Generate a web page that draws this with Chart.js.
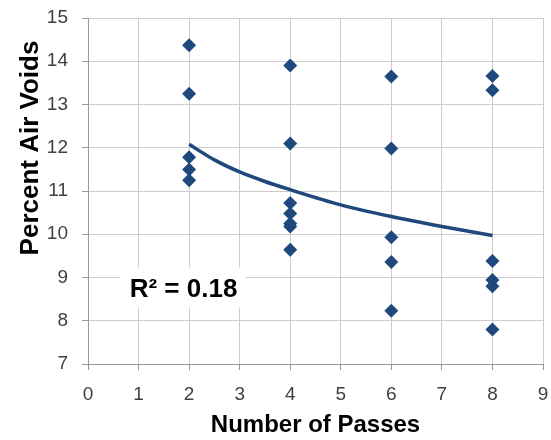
<!DOCTYPE html>
<html>
<head>
<meta charset="utf-8">
<script src="https://cdn.jsdelivr.net/npm/chart.js@4"></script>
<style>
  html, body { margin: 0; padding: 0; background: #fff; }
  #wrap { width: 551px; height: 440px; }
</style>
</head>
<body>
<div id="wrap"><canvas id="grafic" width="551" height="440"></canvas></div>
<script>
// measured points (passes, % air voids)
let passes = [2, 2, 2, 2, 2, 4, 4, 4, 4, 4, 4, 4, 6, 6, 6, 6, 6, 8, 8, 8, 8, 8, 8];
let airVoids = [14.37, 13.25, 11.78, 11.5, 11.25, 13.9, 12.1, 10.72, 10.48, 10.25, 10.18, 9.64,
  13.65, 11.98, 9.93, 9.36, 8.23, 13.66, 13.33, 9.38, 8.94, 8.8, 7.8];

// trend line
let trendX = [2, 2.5, 3, 3.5, 4, 5, 6, 7, 8];
let trendY = [12.08, 11.72, 11.44, 11.22, 11.03, 10.68, 10.41, 10.18, 9.97];

let xTicks = [0, 1, 2, 3, 4, 5, 6, 7, 8, 9];
let yTicks = [7, 8, 9, 10, 11, 12, 13, 14, 15];
let r2Label = "R\u00b2 = 0.18";
let yTitle = "Percent Air Voids";

const blue = "#1F497D";
const font = "'Liberation Sans', Arial, sans-serif";

// white box with the R² text, plus the y title (set a bit high like the original)
const extras = {
  id: "extras",
  afterDatasetsDraw(chart) {
    const ctx = chart.ctx;
    const xs = chart.scales.x;
    const ys = chart.scales.y;
    const cx = xs.getPixelForValue(1.87);
    const cy = ys.getPixelForValue(8.77);
    ctx.save();
    ctx.fillStyle = "#fff";
    ctx.fillRect(cx - 63, cy - 20, 126, 40);
    ctx.font = "bold 26px " + font;
    ctx.fillStyle = "#000";
    ctx.textAlign = "center";
    ctx.textBaseline = "middle";
    ctx.fillText(r2Label, cx + 1, cy + 2);

    ctx.translate(31, ys.getPixelForValue(11.0) - 43);
    ctx.rotate(-Math.PI / 2);
    ctx.font = "bold 26px " + font;
    ctx.fillText(yTitle, 0, 0);
    ctx.restore();
  },
};

// drop the label overhang padding so the plot box sits where the layout says
const noPad = (s) => {
  s.paddingTop = 0;
  s.paddingBottom = 0;
  s.paddingLeft = 0;
  s.paddingRight = 0;
};

const ctx = document.getElementById("grafic").getContext("2d");
let grafic = new Chart(ctx, {
  type: "scatter",
  data: {
    datasets: [
      {
        label: "trend",
        type: "line",
        data: trendX.map((x, i) => ({ x: x, y: trendY[i] })),
        borderColor: blue,
        borderWidth: 3.5,
        pointRadius: 0,
        fill: false,
        cubicInterpolationMode: "monotone",
        order: 2,
      },
      {
        label: "points",
        data: passes.map((x, i) => ({ x: x, y: airVoids[i] })),
        pointStyle: "rectRot",
        pointRadius: 7,
        pointHoverRadius: 7,
        backgroundColor: blue,
        borderColor: blue,
        borderWidth: 0,
        order: 1,
      },
    ],
  },
  options: {
    responsive: false,
    animation: false,
    layout: { padding: { top: 18, right: 8, left: 0, bottom: 0 } },
    plugins: { legend: { display: false }, tooltip: { enabled: false } },
    scales: {
      x: {
        type: "linear",
        min: 0,
        max: 9,
        afterBuildTicks: (s) => { s.ticks = xTicks.map((v) => ({ value: v })); },
        afterFit: (s) => { s.height = 76; noPad(s); },
        grid: { color: "#cccccc", lineWidth: 1, tickLength: 6, tickColor: "#999" },
        border: { color: "#999", width: 1 },
        ticks: { color: "#404040", padding: 13, font: { family: font, size: 19 } },
        title: {
          display: true,
          text: "Number of Passes",
          color: "#000",
          padding: { top: 0, bottom: 0 },
          font: { family: font, size: 24, weight: "bold" },
        },
      },
      y: {
        min: 7,
        max: 15,
        afterBuildTicks: (s) => { s.ticks = yTicks.map((v) => ({ value: v })); },
        afterFit: (s) => { s.width = 88; noPad(s); },
        grid: { color: "#cccccc", lineWidth: 1, tickLength: 6, tickColor: "#999" },
        border: { color: "#999", width: 1 },
        ticks: { color: "#404040", padding: 14, font: { family: font, size: 19 } },
      },
    },
  },
  plugins: [extras],
});
</script>
</body>
</html>
